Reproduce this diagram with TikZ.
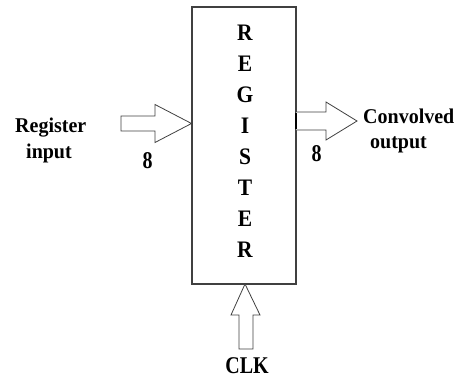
\documentclass[tikz,border=0pt]{standalone}
\usepackage{fontspec}
\setmainfont{Liberation Serif}
\begin{document}
\begin{tikzpicture}[x=1pt,y=-1pt,
  blockarrow/.style={draw=black!75,line width=0.8pt,fill=white,line join=miter},
  regbox/.style={draw=black!75,line width=1.1pt,fill=white,minimum width=104pt,minimum height=277pt,inner sep=0pt},
  bigletter/.style={inner sep=0pt,anchor=base,font=\bfseries\fontsize{21.5}{24}\selectfont,yscale=1.1},
  label/.style={inner sep=0pt,anchor=base west,font=\bfseries\fontsize{20}{22}\selectfont,yscale=1.05},
  width/.style={inner sep=0pt,anchor=base,font=\bfseries\fontsize{20}{22}\selectfont,yscale=1.2}]
\useasboundingbox (0,0) rectangle (458,380);

% register block
\node[regbox] (reg) at (244,145.5) {};
\foreach \ch [count=\i from 0] in {R,E,G,I,S,T,E,R}
  \node[bigletter] (l\i) at (245,{40+31*\i}) {\ch};

% input bus arrow
\draw[blockarrow] (121,116) -- (155,116) -- (155,104.5) -- (191.5,123.5)
  -- (155,142.5) -- (155,131) -- (121,131) -- cycle;
% output bus arrow
\draw[blockarrow] (296,112) -- (326,112) -- (326,102) -- (357,121)
  -- (326,140) -- (326,130) -- (296,130);
\draw[line width=2pt] (296,113) -- (296,129);
% clock arrow
\draw[blockarrow] (245,284) -- (260,315) -- (253,315) -- (253,349)
  -- (239,349) -- (239,315) -- (231,315) -- cycle;

% labels
\node[label] (rin1) at (15,132) {Register};
\node[label] (rin2) at (26,158) {input};
\node[width] (w1) at (147.5,168) {8};
\node[width] (w2) at (316.5,161) {8};
\node[label] (out1) at (363,123) {Convolved};
\node[label] (out2) at (370,148) {output};
\node[width] (clk) at (247,373) {CLK};
\end{tikzpicture}
\end{document}
